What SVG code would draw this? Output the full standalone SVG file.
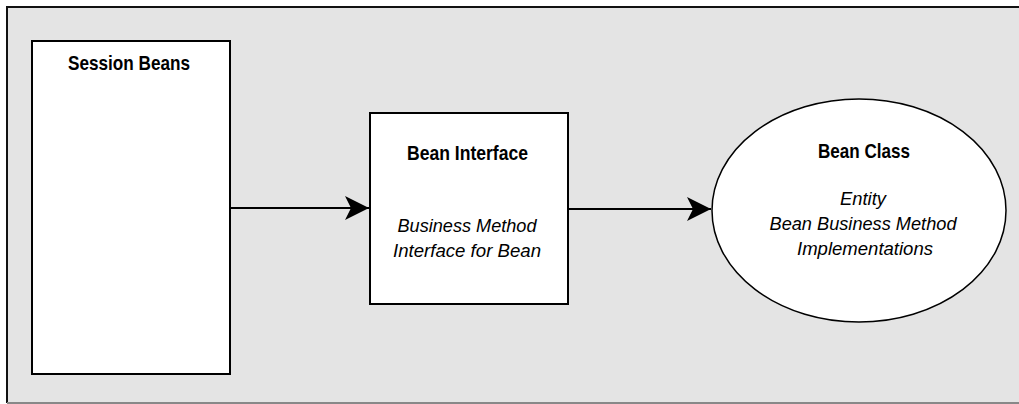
<svg xmlns="http://www.w3.org/2000/svg" width="1019" height="404" viewBox="0 0 1019 404">
  <defs>
    <marker id="arrow" viewBox="0 0 24 24" refX="24" refY="12" markerWidth="24" markerHeight="24" markerUnits="userSpaceOnUse" orient="auto">
      <path d="M0,0 L24,12 L0,24 L6,12 Z" fill="#000"/>
    </marker>
  </defs>
  <style>
    .node { fill: #fff; stroke: #000; stroke-width: 2; }
    .title { font-family: "Liberation Sans", Arial, sans-serif; font-weight: bold; font-size: 20.5px; fill: #000; }
    .body { font-family: "Liberation Sans", Arial, sans-serif; font-style: italic; font-size: 18px; fill: #000; }
    .conn { stroke: #000; stroke-width: 2; fill: none; marker-end: url(#arrow); }
  </style>
  <g id="frame">
    <rect x="7" y="7" width="1012" height="396" fill="#e4e4e4"/>
    <line x1="7" y1="7" x2="1019" y2="7" stroke="#111" stroke-width="2"/>
    <line x1="7" y1="6" x2="7" y2="403" stroke="#111" stroke-width="2"/>
    <line x1="7" y1="403" x2="1019" y2="403" stroke="#888" stroke-width="2"/>
  </g>
  <g id="session-beans">
    <rect class="node" x="32" y="41" width="198" height="333"/>
    <text class="title" x="129" y="70" text-anchor="middle" textLength="122" lengthAdjust="spacingAndGlyphs">Session Beans</text>
  </g>
  <g id="bean-interface">
    <rect class="node" x="370" y="113" width="198" height="191"/>
    <text class="title" x="467.5" y="160" text-anchor="middle" textLength="121" lengthAdjust="spacingAndGlyphs">Bean Interface</text>
    <text class="body" x="467" y="232" text-anchor="middle" textLength="139" lengthAdjust="spacingAndGlyphs">Business Method</text>
    <text class="body" x="467" y="257" text-anchor="middle" textLength="148" lengthAdjust="spacingAndGlyphs">Interface for Bean</text>
  </g>
  <g id="bean-class">
    <ellipse cx="859" cy="210.5" rx="147" ry="111.5" fill="#fff" stroke="#000" stroke-width="1.5"/>
    <text class="title" x="864" y="158" text-anchor="middle" textLength="92" lengthAdjust="spacingAndGlyphs">Bean Class</text>
    <text class="body" x="863" y="205" text-anchor="middle" textLength="46" lengthAdjust="spacingAndGlyphs">Entity</text>
    <text class="body" x="863" y="230" text-anchor="middle" textLength="187" lengthAdjust="spacingAndGlyphs">Bean Business Method</text>
    <text class="body" x="865" y="255" text-anchor="middle" textLength="136" lengthAdjust="spacingAndGlyphs">Implementations</text>
  </g>
  <g id="connectors">
    <line class="conn" x1="231" y1="208" x2="369" y2="208"/>
    <line class="conn" x1="569" y1="209" x2="711" y2="209"/>
  </g>
</svg>
